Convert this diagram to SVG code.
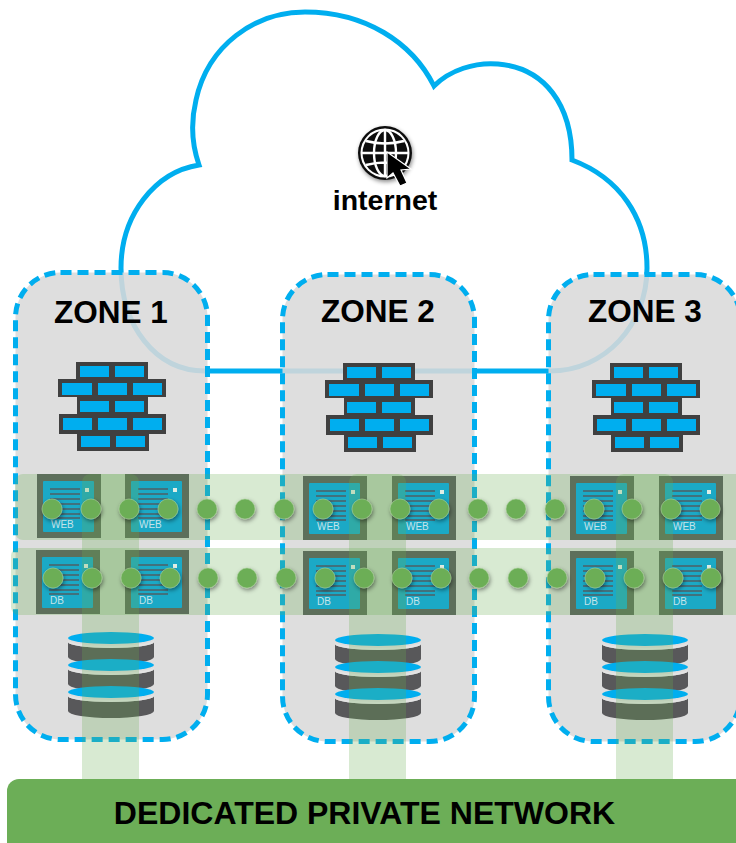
<svg xmlns="http://www.w3.org/2000/svg" width="736" height="843" viewBox="0 0 736 843">
<style>
.zone{fill:#d9d9d9;fill-opacity:.88;stroke:#00aeef;stroke-width:5;stroke-dasharray:11 6}
.zt{font:bold 31.5px "Liberation Sans",Arial,sans-serif;fill:#000;text-anchor:middle}
.tile{fill:#5d6f5b}.inner{fill:#1ba9c6}
.sl{stroke:#4f5f66;stroke-width:1.3}
.st{font:10px "Liberation Sans",Arial,sans-serif;fill:#c5e4ea}
.brickbg{fill:#404040}.brick{fill:#00aeef}
.strip{fill:#6aad50;fill-opacity:.26}
.dot{fill:#6cae57;stroke:#a9d098;stroke-width:.6;filter:url(#sh)}
.body{fill:#58585a}.disk{fill:#00aeef}.gap{fill:#e4e4e4}
</style>
<defs>
<filter id="sh" x="-50%" y="-50%" width="200%" height="200%"><feDropShadow dx="1" dy="2" stdDeviation="2" flood-color="#000" flood-opacity=".45"/></filter>
<g id="wall">
<path class="brickbg" d="M76 362H148V379H166V397H148V414H166V434H149V451H77V434H59V414H77V397H58V379H76Z"/>
<g class="brick">
<rect x="80" y="366" width="29" height="11"/><rect x="115" y="366" width="29" height="11"/>
<rect x="62" y="383" width="30" height="12"/><rect x="98" y="383" width="29" height="12"/><rect x="133" y="383" width="29" height="12"/>
<rect x="80" y="401" width="29" height="11"/><rect x="115" y="401" width="29" height="11"/>
<rect x="63" y="418" width="29" height="12"/><rect x="98" y="418" width="29" height="12"/><rect x="133" y="418" width="29" height="12"/>
<rect x="81" y="436" width="29" height="11"/><rect x="116" y="436" width="29" height="11"/>
</g></g>
<g id="srv">
<rect class="tile" width="64" height="64"/>
<rect class="inner" x="6" y="7" width="51" height="51" rx="1"/>
<path class="sl" d="M13 15H43M13 20H43M13 25H43M13 30H43M13 35H43M13 40H43M13 44H43"/>
<rect x="48" y="14" width="4" height="4" fill="#dfeee6"/>
</g>
<g id="cyl">
<path class="body" d="M68 642A43 6 0 0 0 154 642V657A43 7 0 0 1 68 657Z"/>
<path class="gap" d="M68 640A43 6 0 0 0 154 640V642A43 6 0 0 1 68 642Z"/>
<ellipse class="disk" cx="111" cy="638" rx="43" ry="6"/>
<path class="body" d="M68 669A43 6 0 0 0 154 669V684A43 7 0 0 1 68 684Z"/>
<path class="gap" d="M68 667A43 6 0 0 0 154 667V669A43 6 0 0 1 68 669Z"/>
<ellipse class="disk" cx="111" cy="665" rx="43" ry="6"/>
<path class="body" d="M68 696A43 6 0 0 0 154 696V711A43 7 0 0 1 68 711Z"/>
<path class="gap" d="M68 694A43 6 0 0 0 154 694V696A43 6 0 0 1 68 696Z"/>
<ellipse class="disk" cx="111" cy="692" rx="43" ry="6"/>
</g>
</defs>

<g id="cloud">
<path d="M205 371C155 371 121 325 121 268C121 215 155 172 199 165C192 145 190 125 196 100C208 45 255 12 305 12C365 12 412 42 434 86C450 70 475 62 498 64C545 68 572 105 572 160C620 178 647 218 647 268C647 325 605 371 550 371Z" fill="#fff" stroke="#00aeef" stroke-width="5"/>
</g>

<g id="internet">
<g filter="url(#sh)">
<circle cx="385" cy="153" r="27" fill="#111"/>
<circle cx="385" cy="153" r="24.500" fill="#fff"/>
<circle cx="385" cy="153" r="22.500" fill="#111"/>
<g fill="none" stroke="#fff" stroke-width="2.400">
<ellipse cx="385" cy="153" rx="11" ry="23"/>
<path d="M385 130V176M362 153H408M366 141Q385 146 404 141M366 165Q385 160 404 165"/>
</g>
</g>
<path d="M387 152V178L393 173L400 186L407 183L401 170L411 169Z" fill="#000" stroke="#fff" stroke-width="1.200"/>
<text x="385" y="210" font-family="'Liberation Sans',Arial,sans-serif" font-weight="bold" font-size="28.500" text-anchor="middle">internet</text>
</g>

<g id="zone1">
<rect class="zone" x="15.500" y="272.500" width="192" height="467" rx="45"/>
<text class="zt" x="111" y="323">ZONE 1</text>
<use href="#wall"/>
<use href="#cyl"/>
</g>
<g id="zone2">
<rect class="zone" x="282.500" y="274.500" width="192" height="467" rx="45"/>
<text class="zt" x="378" y="322">ZONE 2</text>
<use href="#wall" x="267" y="1"/>
<use href="#cyl" x="267" y="2"/>
</g>
<g id="zone3">
<rect class="zone" x="548.500" y="274.500" width="192" height="467" rx="45"/>
<text class="zt" x="645" y="322">ZONE 3</text>
<use href="#wall" x="534" y="1"/>
<use href="#cyl" x="534" y="2"/>
</g>

<g id="rows">
<rect class="strip" x="15" y="474" width="730" height="66" rx="8"/>
<rect class="strip" x="11" y="548" width="735" height="67" rx="8"/>
</g>

<g id="servers">
<use href="#srv" x="37" y="474"/><text class="st" x="51" y="528">WEB</text>
<use href="#srv" x="125" y="474"/><text class="st" x="139" y="528">WEB</text>
<use href="#srv" x="36" y="550"/><text class="st" x="50" y="604">DB</text>
<use href="#srv" x="125" y="550"/><text class="st" x="139" y="604">DB</text>
<use href="#srv" x="303" y="476"/><text class="st" x="317" y="530">WEB</text>
<use href="#srv" x="392" y="476"/><text class="st" x="406" y="530">WEB</text>
<use href="#srv" x="303" y="551"/><text class="st" x="317" y="605">DB</text>
<use href="#srv" x="392" y="551"/><text class="st" x="406" y="605">DB</text>
<use href="#srv" x="570" y="476"/><text class="st" x="584" y="530">WEB</text>
<use href="#srv" x="659" y="476"/><text class="st" x="673" y="530">WEB</text>
<use href="#srv" x="570" y="551"/><text class="st" x="584" y="605">DB</text>
<use href="#srv" x="659" y="551"/><text class="st" x="673" y="605">DB</text>
</g>

<g id="connectors">
<path class="strip" d="M82 483a8 8 0 0 1 8-9H131a8 8 0 0 1 8 9V780H82Z"/>
<path class="strip" d="M349 483a8 8 0 0 1 8-9H398a8 8 0 0 1 8 9V780H349Z"/>
<path class="strip" d="M616 483a8 8 0 0 1 8-9H665a8 8 0 0 1 8 9V780H616Z"/>
<g class="dots">
<circle class="dot" cx="52" cy="509" r="10"/><circle class="dot" cx="91" cy="509" r="10"/><circle class="dot" cx="129" cy="509" r="10"/><circle class="dot" cx="168" cy="509" r="10"/><circle class="dot" cx="207" cy="509" r="10"/><circle class="dot" cx="245" cy="509" r="10"/><circle class="dot" cx="284" cy="509" r="10"/><circle class="dot" cx="323" cy="509" r="10"/><circle class="dot" cx="362" cy="509" r="10"/><circle class="dot" cx="400" cy="509" r="10"/><circle class="dot" cx="439" cy="509" r="10"/><circle class="dot" cx="478" cy="509" r="10"/><circle class="dot" cx="516" cy="509" r="10"/><circle class="dot" cx="555" cy="509" r="10"/><circle class="dot" cx="594" cy="509" r="10"/><circle class="dot" cx="632" cy="509" r="10"/><circle class="dot" cx="671" cy="509" r="10"/><circle class="dot" cx="710" cy="509" r="10"/>
<circle class="dot" cx="53" cy="578" r="10"/><circle class="dot" cx="92" cy="578" r="10"/><circle class="dot" cx="131" cy="578" r="10"/><circle class="dot" cx="170" cy="578" r="10"/><circle class="dot" cx="208" cy="578" r="10"/><circle class="dot" cx="247" cy="578" r="10"/><circle class="dot" cx="286" cy="578" r="10"/><circle class="dot" cx="325" cy="578" r="10"/><circle class="dot" cx="364" cy="578" r="10"/><circle class="dot" cx="402" cy="578" r="10"/><circle class="dot" cx="441" cy="578" r="10"/><circle class="dot" cx="479" cy="578" r="10"/><circle class="dot" cx="518" cy="578" r="10"/><circle class="dot" cx="557" cy="578" r="10"/><circle class="dot" cx="595" cy="578" r="10"/><circle class="dot" cx="634" cy="578" r="10"/><circle class="dot" cx="673" cy="578" r="10"/><circle class="dot" cx="711" cy="578" r="10"/>
</g>
</g>

<g id="network">
<rect x="7" y="779" width="745" height="80" rx="12" fill="#6cae57"/>
<text x="364.500" y="824" font-family="'Liberation Sans',Arial,sans-serif" font-weight="bold" font-size="32" text-anchor="middle">DEDICATED PRIVATE NETWORK</text>
</g>
</svg>
